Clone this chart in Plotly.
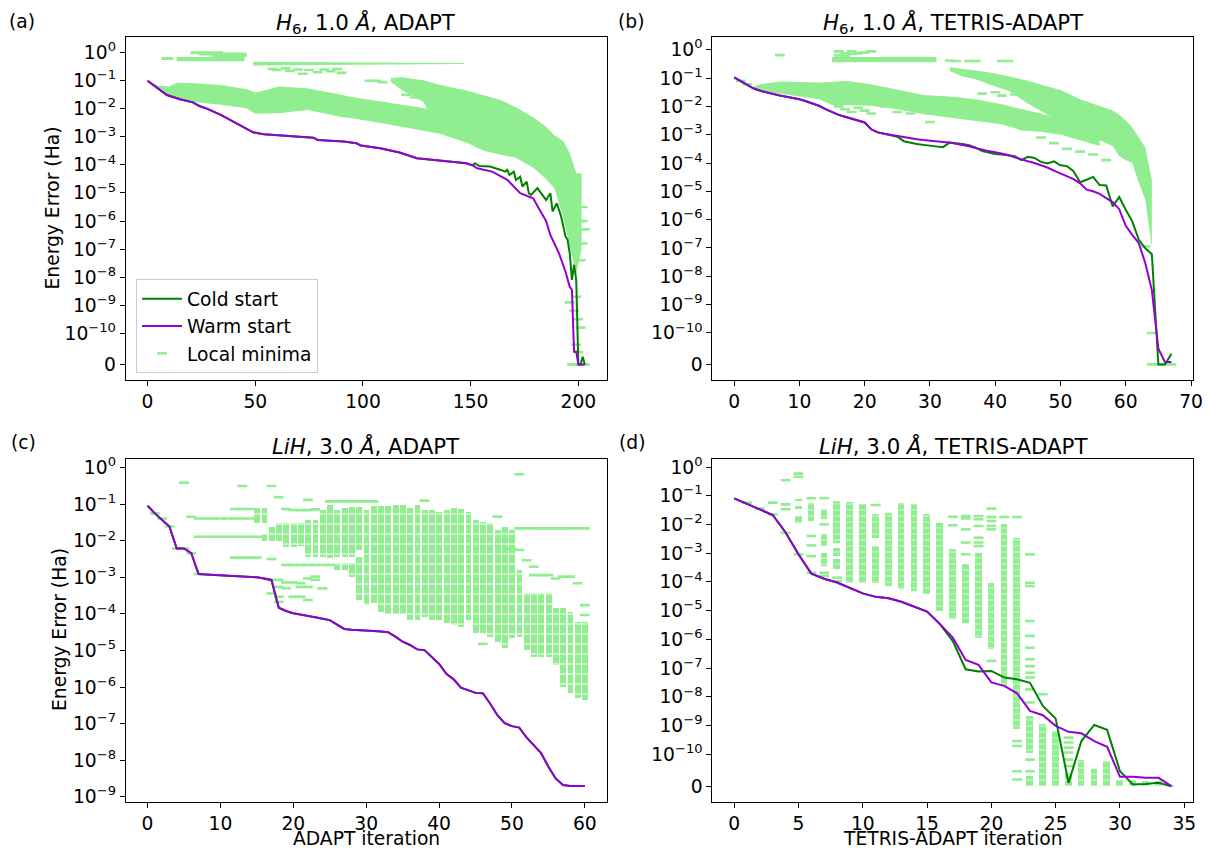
import numpy as np
import plotly.graph_objects as go

Z = float('-inf')   # log10 of an exact-zero energy error
FONT = "DejaVu Sans"
GREEN = "#008000"
PURPLE = "#9400D3"
LG = "#90EE90"

# ================= Panel (a): H6, 1.0 A, ADAPT =================
a_warm_iter = [0, 4, 9, 15, 21, 24, 27, 34, 40, 44, 47, 49, 54, 60, 66, 77, 79, 91, 97, 99,
               108, 117, 125, 136, 148, 151, 153, 160, 167, 173, 179, 182, 185, 187, 190, 191,
               194, 196, 197, 198, 199, 200, 203]
a_warm_log = [-1.0, -1.23, -1.51, -1.66, -1.77, -1.9, -1.98, -2.22, -2.46, -2.61, -2.75, -2.84,
              -2.91, -2.94, -2.99, -3.03, -3.11, -3.17, -3.23, -3.31, -3.41, -3.56, -3.76, -3.85,
              -3.94, -4.02, -4.12, -4.24, -4.53, -5.01, -5.19, -5.6, -6.0, -6.5, -6.95, -7.15,
              -7.8, -8.35, -8.45, -10.39, -10.39, Z, Z]
a_cold_iter = [0, 4, 9, 15, 21, 24, 27, 34, 40, 44, 47, 49, 54, 60, 66, 77, 79, 91, 97, 99,
               108, 117, 125, 136, 148, 151, 152, 154, 159, 164, 166, 167, 168, 170, 171, 173,
               174, 176, 177, 178, 181, 185, 187, 188, 190, 192, 194, 195, 196, 197, 198, 199,
               200, 201, 202, 203]
a_cold_log = [-1.0, -1.23, -1.51, -1.66, -1.77, -1.9, -1.98, -2.22, -2.46, -2.61, -2.75, -2.84,
              -2.91, -2.94, -2.99, -3.03, -3.11, -3.17, -3.23, -3.31, -3.41, -3.56, -3.76, -3.85,
              -3.94, -4.02, -3.94, -4.04, -4.06, -4.18, -4.24, -4.18, -4.36, -4.24, -4.54, -4.42,
              -4.77, -4.6, -5.01, -5.07, -4.83, -5.25, -5.01, -5.66, -5.37, -5.84, -6.55, -6.67,
              -7.15, -8.1, -7.56, -8.1, Z, Z, -10.61, Z]
# local-minima envelopes (log10 of energy error)
a_low_iter = [1, 5, 10, 14, 20, 34, 46, 50, 55, 61, 74, 83, 89, 94, 105, 117, 128, 136, 148]
a_low_top = [-1.05, -1.18, -1.21, -1.07, -1.08, -1.15, -1.30, -1.42, -1.33, -1.21, -1.27, -1.39,
             -1.48, -1.57, -1.70, -1.86, -1.97, -2.10, -2.40]
a_low_bot = [-1.12, -1.35, -1.51, -1.62, -1.75, -1.86, -1.98, -2.18, -2.18, -2.16, -2.04, -2.18,
             -2.28, -2.33, -2.46, -2.62, -2.78, -2.90, -3.20]
a_lobe_iter = [113, 118, 128, 136, 148, 156, 164, 171, 179, 185, 189, 193, 196, 199, 201.5]
a_lobe_top = [-0.90, -0.88, -0.98, -1.15, -1.35, -1.51, -1.69, -1.95, -2.30, -2.64, -2.95, -3.15,
              -3.58, -4.30, -4.30]
a_lobe_bot = [-1.05, -1.33, -1.75, -2.87, -3.20, -3.50, -3.64, -3.75, -4.10, -4.50, -4.85, -5.90,
              -6.90, -7.90, -7.00]
a_row_iter = [49, 78, 110, 134, 147]
a_row_top = [-0.32, -0.33, -0.34, -0.36, -0.37]
a_row_bot = [-0.46, -0.44, -0.43, -0.41, -0.40]
a_seg_x0 = [20, 24, 30, 6.5, 13.5, 13.5]
a_seg_x1 = [35, 46, 46, 12, 45, 45]
a_seg_log = [0.0, -0.05, -0.10, -0.21, -0.21, -0.25]
a_dash_iter = [58, 60, 64, 66, 70, 72, 75, 79, 82, 85, 88, 90, 103, 106, 109, 32, 120, 124, 127,
               131, 196, 198, 199, 200, 201, 199, 200, 202, 202, 203, 202, 201,
               197, 198, 199, 200, 201, 202, 203]
a_dash_log = [-0.58, -0.62, -0.56, -0.65, -0.60, -0.75, -0.62, -0.70, -0.60, -0.66, -0.58, -0.72,
              -1.0, -1.0, -1.05, -1.21, -1.50, -1.60, -1.45, -1.55, -8.9, -9.2, -8.7, -9.5, -9.8,
              -10.2, -10.4, -5.5, -6.0, -6.3, -6.8, -7.4, Z, Z, Z, Z, Z, Z, Z]

# ================= Panel (b): H6, 1.0 A, TETRIS-ADAPT =================
b_iter = list(range(0, 68))
b_warm_log = [-0.98, -1.10, -1.24, -1.37, -1.45, -1.51, -1.57, -1.62, -1.66, -1.70,
              -1.75, -1.82, -1.89, -1.98, -2.10, -2.20, -2.30, -2.37, -2.44, -2.50,
              -2.57, -2.81, -2.92, -2.97, -3.01, -3.05, -3.10, -3.13, -3.16, -3.19,
              -3.22, -3.24, -3.26, -3.28, -3.32, -3.36, -3.41, -3.47, -3.53, -3.58,
              -3.62, -3.67, -3.72, -3.80, -3.88, -3.94, -4.00, -4.08, -4.16, -4.27,
              -4.37, -4.47, -4.57, -4.72, -4.94, -5.00, -5.09, -5.24, -5.38, -5.63,
              -6.22, -6.54, -6.83, -7.54, -8.49, -10.30, -11.10, -11.10]
b_cold_log = [-0.98, -1.10, -1.24, -1.37, -1.45, -1.51, -1.57, -1.62, -1.66, -1.70,
              -1.75, -1.82, -1.89, -1.98, -2.10, -2.20, -2.30, -2.37, -2.44, -2.50,
              -2.57, -2.81, -2.92, -2.97, -3.01, -3.07, -3.23, -3.29, -3.33, -3.36,
              -3.38, -3.41, -3.44, -3.28, -3.30, -3.33, -3.37, -3.46, -3.58, -3.64,
              -3.68, -3.70, -3.72, -3.76, -3.90, -3.78, -3.82, -3.96, -4.02, -3.94,
              -4.08, -4.11, -4.29, -4.68, -4.59, -4.49, -4.78, -4.79, -5.53, -5.20,
              -5.65, -6.06, -6.71, -7.01, -7.22, Z, Z, -10.47]
b_low_iter = [3, 4, 7, 10, 13, 15, 17, 21, 25, 29, 33, 37, 41, 44, 47, 50, 53, 56]
b_low_top = [-1.30, -1.22, -1.12, -1.14, -1.16, -1.14, -1.10, -1.22, -1.40, -1.60, -1.65, -1.75,
             -1.93, -2.10, -2.25, -2.45, -2.65, -2.90]
b_low_bot = [-1.42, -1.45, -1.55, -1.65, -1.75, -1.95, -1.95, -1.98, -2.10, -2.28, -2.40, -2.52,
             -2.63, -2.85, -2.90, -3.00, -3.20, -3.40]
b_lobe_iter = [33, 35, 37, 39, 42, 45, 48, 50, 53, 56, 58, 59, 60, 61, 62, 63, 64]
b_lobe_top = [-0.62, -0.68, -0.74, -0.80, -0.94, -1.10, -1.30, -1.42, -1.75, -2.00, -2.15, -2.30,
              -2.50, -2.75, -3.10, -3.45, -4.60]
b_lobe_bot = [-0.75, -0.95, -1.04, -1.22, -1.45, -1.90, -2.30, -2.50, -2.80, -3.20, -3.40, -3.75,
              -3.90, -4.00, -4.70, -5.30, -7.00]
b_seg_x0 = [15, 15]
b_seg_x1 = [31, 31]
b_seg_log = [-0.31, -0.39]
b_dash_iter = [1, 2, 7, 16, 17, 18, 18, 19, 20, 21, 16, 17, 33, 34, 36, 37, 41, 42,
               16, 17, 18, 19, 20, 21, 23, 25, 27, 30,
               38, 40, 41, 43,
               47, 49, 51, 53, 55, 57, 63,
               64, 64, 65, 66, 67]
b_dash_log = [-1.10, -1.22, -0.19, -0.06, -0.12, -0.06, -0.15, -0.12, -0.10, -0.06, -0.20, -0.22,
              -0.38, -0.40, -0.40, -0.40, -0.40, -0.40,
              -2.00, -2.10, -2.20, -2.05, -2.15, -2.25, -2.00, -2.20, -2.25, -2.55,
              -1.55, -1.50, -1.62, -1.58,
              -3.10, -3.30, -3.50, -3.60, -3.70, -3.90, -6.95,
              -10.0, Z, Z, Z, Z]

# ================= Panel (c): LiH, 3.0 A, ADAPT =================
c_iter = list(range(0, 61))
c_warm_log = [-1.04, -1.25, -1.43, -1.61, -2.21, -2.21, -2.34, -2.91, -2.92, -2.93,
              -2.94, -2.95, -2.96, -2.97, -2.98, -3.00, -3.03, -3.07, -3.83, -3.92,
              -3.98, -4.01, -4.05, -4.09, -4.13, -4.17, -4.29, -4.41, -4.43, -4.45,
              -4.46, -4.47, -4.48, -4.50, -4.62, -4.76, -4.85, -4.97, -4.99, -5.17,
              -5.37, -5.64, -5.79, -6.02, -6.10, -6.16, -6.17, -6.45, -6.77, -6.99,
              -7.07, -7.11, -7.38, -7.59, -7.81, -8.18, -8.50, -8.68, -8.71, -8.71, -8.71]
c_cold_log = [-1.04, -1.25, -1.43, -1.61, -2.21, -2.21, -2.34, -2.91, -2.92, -2.93,
              -2.94, -2.95, -2.96, -2.97, -2.98, -3.00, -3.03, -3.07, -3.83, -3.92,
              -3.98, -4.01, -4.05, -4.09, -4.13, -4.17, -4.29, -4.41, -4.43, -4.45,
              -4.46, -4.47, -4.48, -4.50, -4.62, -4.76, -4.85, -4.97, -4.99, -5.17,
              -5.37, -5.64, -5.79, -6.02, -6.10, -6.16, -6.17, -6.45, -6.77, -6.99,
              -7.07, -7.11, -7.38, -7.59, -7.81, -8.18, -8.50, -8.68, -8.71, -8.71, -8.71]
c_col_iter = [15, 16, 16, 17, 18, 19, 20, 21, 22, 23, 24, 25, 26, 26, 27, 27, 28, 28, 29, 29,
              30, 31, 32, 33, 34, 35, 36, 37, 38, 39, 40, 41, 42, 43, 44, 45, 46, 47, 48, 49,
              50, 51, 52, 53, 54, 55, 56, 57, 58, 59, 60]
c_col_top = [-1.11, -1.11, -1.80, -1.61, -1.52, -1.52, -1.52, -1.52, -1.43, -1.43,
             -1.16, -1.02, -1.16, -2.62, -1.09, -2.62, -1.07, -2.62, -1.07, -2.44,
             -1.16, -1.05, -1.05, -1.05, -1.02, -1.02, -1.11, -1.02, -1.16, -1.16,
             -1.20, -1.16, -1.11, -1.14, -1.20, -1.43, -1.48, -1.52, -1.71, -1.61,
             -1.71, -2.80, -3.44, -3.44, -3.44, -3.44, -3.85, -3.85, -3.94, -4.21, -4.21]
c_col_bot = [-1.50, -1.50, -2.00, -2.00, -2.00, -2.16, -2.16, -2.14, -2.44, -2.45,
             -2.45, -2.48, -2.45, -2.80, -2.45, -2.80, -2.45, -2.98, -2.25, -3.62,
             -3.76, -3.71, -3.94, -3.99, -3.99, -3.99, -4.17, -4.17, -4.09, -4.17,
             -4.17, -4.26, -4.30, -4.35, -4.17, -4.53, -4.53, -4.62, -4.76, -4.94,
             -4.67, -4.62, -4.99, -5.17, -5.17, -5.17, -5.40, -5.99, -6.17, -6.31, -6.36]
c_dash_iter = [1, 2, 3, 4, 5, 5, 6, 6, 7, 7, 7,
               8, 9, 10, 11, 12, 13, 14,
               8, 9, 10, 11, 12, 13, 14, 15,
               12, 13, 14, 15, 17,
               12, 13, 14, 19, 20, 21, 22, 23,
               13, 17, 18, 22,
               25, 26, 27, 28, 29, 30, 31,
               38, 51,
               19, 20, 21, 22, 23, 24, 25,
               17, 17, 18, 18, 18, 18, 19, 19, 20, 20, 21, 21, 21, 22, 22, 22, 23, 23, 24,
               51, 52, 53, 54, 55, 56, 57, 58, 59, 60,
               49, 50, 51, 52, 53, 53, 54, 55, 56, 57, 58, 59, 60, 60, 48, 46]
c_dash_log = [-1.25, -1.39, -1.61, -2.21, -0.41, -2.21, -1.34, -2.34, -1.39, -1.89, -2.91,
              -1.39, -1.39, -1.39, -1.39, -1.39, -1.39, -1.39,
              -1.89, -1.89, -1.89, -1.89, -1.89, -1.89, -1.89, -1.89,
              -2.46, -2.46, -2.46, -2.46, -2.50,
              -1.13, -1.13, -1.13, -1.13, -1.16, -1.16, -1.16, -1.14,
              -0.50, -0.50, -0.81, -0.88,
              -0.92, -0.92, -0.92, -0.92, -0.92, -0.92, -0.92,
              -0.90, -0.18,
              -2.66, -2.66, -2.66, -2.66, -2.66, -2.66, -2.66,
              -3.07, -3.44, -3.07, -3.26, -3.53, -3.67, -3.14, -3.30, -3.14, -3.53, -3.16,
              -3.26, -3.53, -3.03, -3.26, -3.62, -2.98, -3.07, -3.30,
              -1.66, -1.66, -1.66, -1.66, -1.66, -1.66, -1.66, -1.66, -1.66, -1.66,
              -1.98, -2.21, -2.25, -2.53, -2.71, -2.94, -2.94, -2.94, -3.03, -2.98, -2.98,
              -3.16, -3.76, -4.03, -1.34, -4.82]

# ================= Panel (d): LiH, 3.0 A, TETRIS-ADAPT =================
d_iter = list(range(0, 35))
d_warm_log = [-1.09, -1.28, -1.47, -1.67, -2.28, -3.04, -3.71, -3.89, -4.02, -4.20,
              -4.40, -4.52, -4.57, -4.69, -4.86, -5.03, -5.47, -5.94, -6.72, -6.89,
              -7.50, -7.62, -7.88, -8.49, -8.64, -9.01, -9.22, -9.27, -9.54, -9.74,
              -10.53, -10.53, -10.58, -10.58, Z]
d_cold_log = [-1.09, -1.28, -1.47, -1.67, -2.28, -3.04, -3.71, -3.89, -4.02, -4.20,
              -4.40, -4.52, -4.57, -4.69, -4.86, -5.03, -5.47, -6.06, -7.04, -7.12,
              -7.10, -7.33, -7.39, -7.51, -8.32, -8.76, -10.98, -9.54, -8.98, -9.15,
              -10.33, -11.28, -11.14, -10.98, Z]
d_col_iter = [5, 5, 5, 6, 7, 7, 7, 8, 8, 8, 9, 10, 11, 11, 12, 13, 14, 15, 16, 17, 18, 19, 20,
              21, 22, 23, 23, 24, 25, 26, 27, 28, 29, 30, 31, 32, 33, 34]
d_col_top = [-1.13, -1.36, -1.71, -1.24, -1.47, -2.34, -2.98, -1.18, -2.81, -3.21, -1.22, -1.30,
             -1.65, -2.75, -1.59, -1.24, -1.30, -1.62, -1.94, -2.86, -3.39, -2.98, -4.03, -2.00,
             -2.46, -8.67, -10.50, -8.96, -9.19, -10.38, -10.08, -10.28, -10.11, -10.68, -10.68,
             -10.80, -10.80, -11.30]
d_col_bot = [-1.18, -1.47, -1.94, -1.88, -1.82, -2.75, -3.45, -2.63, -3.10, -3.56, -4.03, -4.03,
             -2.46, -4.03, -4.14, -4.26, -4.32, -4.43, -5.01, -5.30, -5.42, -5.94, -6.35, -7.62,
             -9.13, -9.94, Z, Z, Z, Z, Z, Z, Z, Z, Z, Z, Z, Z]
d_dash_iter = [1, 2, 3, 3, 4, 4, 4, 4, 5, 5, 5, 6, 6, 6, 6, 6, 7, 7, 7, 7, 8, 8, 11,
               17, 17, 18, 18, 18, 18, 18, 19, 19, 19, 19, 19, 19, 20, 20, 20, 20, 20, 20, 21,
               22, 22, 22, 22, 22,
               23, 23, 23, 23, 23, 23, 23, 23, 23, 23, 23, 23, 23, 23, 24, 26, 26, 26, 26, 26, 26]
d_dash_log = [-1.24, -1.45, -1.24, -1.65, -0.46, -1.30, -1.47, -2.29, -0.23, -0.34, -3.04,
              -1.09, -2.40, -2.73, -3.10, -3.68, -1.09, -2.00, -3.68, -3.79, -3.85, -3.97, -1.32,
              -1.73, -2.03, -1.71, -1.79, -2.17, -2.63, -3.04, -1.71, -1.82, -2.05, -2.46, -2.63,
              -2.75, -1.45, -1.74, -1.88, -2.05, -2.17, -6.75, -1.74,
              -1.74, -9.54, -9.71, -10.33, -10.68,
              -3.04, -4.03, -4.14, -5.36, -5.88, -6.29, -6.69, -6.93, -7.16, -7.33, -7.74, -8.20,
              -10.08, -10.33, -7.91, -9.42, -9.59, -9.77, -9.94, -10.08, -10.20]

# tick labels
sym_tick_log = [Z, -10, -9, -8, -7, -6, -5, -4, -3, -2, -1, 0]
sym_tick_text = ["0"] + ["10<sup>\u2212%d</sup>" % k for k in range(10, 0, -1)] + ["10<sup>0</sup>"]
log_tick_log = [-9, -8, -7, -6, -5, -4, -3, -2, -1, 0]
log_tick_text = ["10<sup>\u2212%d</sup>" % k for k in range(9, 0, -1)] + ["10<sup>0</sup>"]
a_xticks = [0, 50, 100, 150, 200]
b_xticks = [0, 10, 20, 30, 40, 50, 60, 70]
c_xticks = [0, 10, 20, 30, 40, 50, 60]
d_xticks = [0, 5, 10, 15, 20, 25, 30, 35]

# ---------------- scales ----------------
LT = 1e-10
LS = 1.0 / (1.0 - 0.1)


def values(logs):
    return np.power(10.0, np.asarray(logs, dtype=float))


def symlog(logs):
    v = values(logs)
    return np.where(v > LT, LS + np.log10(np.maximum(v, LT) / LT), v / LT * LS)


def plainlog(logs):
    return np.log10(values(logs))


fig = go.Figure()


def axes(ax):
    return dict(xaxis="x" + ax, yaxis="y" + ax)


def add_band(xs, top, bot, tf, ax):
    x = list(xs) + list(xs)[::-1]
    y = list(tf(top)) + list(tf(bot))[::-1]
    fig.add_trace(go.Scatter(x=x, y=y, fill="toself", fillcolor=LG, mode="lines",
                             line=dict(width=0, color=LG), hoverinfo="skip",
                             showlegend=False, **axes(ax)))


def add_cols(xs, top, bot, tf, ax, width, psize):
    t = tf(top)
    b = tf(bot)
    fig.add_trace(go.Bar(x=xs, y=t - b, base=b, width=width,
                         marker=dict(color=LG, line=dict(width=0),
                                     pattern=dict(shape="-", fgcolor="white", bgcolor=LG,
                                                  size=psize, solidity=0.1)),
                         hoverinfo="skip", showlegend=False, **axes(ax)))


def add_segs(x0, x1, logs, tf, ax):
    xs, ys = [], []
    for a, b, t in zip(x0, x1, tf(logs)):
        xs += [a, b, None]
        ys += [t, t, None]
    fig.add_trace(go.Scatter(x=xs, y=ys, mode="lines", line=dict(color=LG, width=3),
                             hoverinfo="skip", showlegend=False, **axes(ax)))


def add_dashes(xs, logs, tf, ax, legend=False):
    fig.add_trace(go.Scatter(x=xs, y=tf(logs), mode="markers", name="Local minima",
                             marker=dict(symbol="line-ew", size=7, color=LG,
                                         line=dict(width=2.6, color=LG)),
                             showlegend=legend, legendgroup="g3", legendrank=3,
                             hoverinfo="skip", **axes(ax)))


def add_line(xs, logs, tf, ax, color, name, legend, rank):
    fig.add_trace(go.Scatter(x=xs, y=tf(logs), mode="lines", name=name,
                             line=dict(color=color, width=2), showlegend=legend,
                             legendgroup="g%d" % rank, legendrank=rank,
                             hoverinfo="skip", **axes(ax)))


# (a)
add_band(a_low_iter, a_low_top, a_low_bot, symlog, "")
add_band(a_lobe_iter, a_lobe_top, a_lobe_bot, symlog, "")
add_band(a_row_iter, a_row_top, a_row_bot, symlog, "")
add_segs(a_seg_x0, a_seg_x1, a_seg_log, symlog, "")
add_dashes(a_dash_iter, a_dash_log, symlog, "", legend=True)
add_line(a_cold_iter, a_cold_log, symlog, "", GREEN, "Cold start", True, 1)
add_line(a_warm_iter, a_warm_log, symlog, "", PURPLE, "Warm start", True, 2)
# (b)
add_band(b_low_iter, b_low_top, b_low_bot, symlog, "2")
add_band(b_lobe_iter, b_lobe_top, b_lobe_bot, symlog, "2")
add_segs(b_seg_x0, b_seg_x1, b_seg_log, symlog, "2")
add_dashes(b_dash_iter, b_dash_log, symlog, "2")
add_line(b_iter, b_cold_log, symlog, "2", GREEN, "Cold start", False, 1)
add_line(b_iter, b_warm_log, symlog, "2", PURPLE, "Warm start", False, 2)
# (c)
add_cols(c_col_iter, c_col_top, c_col_bot, plainlog, "3", 0.8, 10)
add_dashes(c_dash_iter, c_dash_log, plainlog, "3")
add_line(c_iter, c_cold_log, plainlog, "3", GREEN, "Cold start", False, 1)
add_line(c_iter, c_warm_log, plainlog, "3", PURPLE, "Warm start", False, 2)
# (d)
add_cols(d_col_iter, d_col_top, d_col_bot, symlog, "4", 0.52, 6)
add_dashes(d_dash_iter, d_dash_log, symlog, "4")
add_line(d_iter, d_cold_log, symlog, "4", GREEN, "Cold start", False, 1)
add_line(d_iter, d_warm_log, symlog, "4", PURPLE, "Warm start", False, 2)

W, H = 1208, 850
TICKF = dict(family=FONT, size=18.7, color="black")


def px_x(a, b):
    return [a / W, b / W]


def px_y(top, bottom):
    return [1 - bottom / H, 1 - top / H]


def xcfg(dom, rng, ticks, anchor):
    return dict(domain=dom, range=rng, tickmode="array", tickvals=ticks,
                ticktext=[str(t) for t in ticks], showline=True, mirror=True,
                linecolor="black", linewidth=1, ticks="outside", ticklen=5, tickwidth=1,
                tickcolor="black", showgrid=False, zeroline=False, tickfont=TICKF,
                anchor=anchor, automargin=False, fixedrange=True)


def ycfg(dom, rng, tickpos, ticktext, anchor):
    return dict(domain=dom, range=rng, tickmode="array", tickvals=list(tickpos),
                ticktext=ticktext, showline=True, mirror=True, linecolor="black",
                linewidth=1, ticks="outside", ticklen=5, tickwidth=1, tickcolor="black",
                showgrid=False, zeroline=False, tickfont=TICKF, anchor=anchor,
                automargin=False, fixedrange=True)


XL = px_x(125.7, 606.7)
XR = px_x(712.3, 1193.3)
YT = px_y(36.7, 380.0)
YB = px_y(459.0, 801.7)

fig.update_layout(
    width=W, height=H, margin=dict(l=0, r=0, t=0, b=0),
    paper_bgcolor="white", plot_bgcolor="white", template="none",
    barmode="overlay", bargap=0,
    font=dict(family=FONT, size=18.7, color="black"),
    xaxis=xcfg(XL, [-10.15, 213.15], a_xticks, "y"),
    yaxis=ycfg(YT, [-0.556, 11.68], symlog(sym_tick_log), sym_tick_text, "x"),
    xaxis2=xcfg(XR, [-3.35, 70.35], b_xticks, "y2"),
    yaxis2=ycfg(YT, [-0.55, 11.57], symlog(sym_tick_log), sym_tick_text, "x2"),
    xaxis3=xcfg(XL, [-3.0, 63.0], c_xticks, "y3"),
    yaxis3=ycfg(YB, [-9.137, 0.238], plainlog(log_tick_log), log_tick_text, "x3"),
    xaxis4=xcfg(XR, [-1.7, 35.7], d_xticks, "y4"),
    yaxis4=ycfg(YB, [-0.54, 11.39], symlog(sym_tick_log), sym_tick_text, "x4"),
    legend=dict(x=136 / W, y=1 - 279 / H, xanchor="left", yanchor="top",
                bgcolor="white", bordercolor="#cccccc", borderwidth=1,
                font=dict(family=FONT, size=18.7, color="black"),
                tracegroupgap=0, itemwidth=40),
    showlegend=True,
)

TITLE_F = dict(family=FONT, size=21.3, color="black")
LABEL_F = dict(family=FONT, size=18.7, color="black")


def ann(text, x, y, font, xanchor="center", yanchor="middle", **kw):
    fig.add_annotation(text=text, x=x / W, y=1 - y / H, xref="paper", yref="paper",
                       showarrow=False, font=font, xanchor=xanchor, yanchor=yanchor, **kw)


ann("<i>H</i><sub>6</sub>, 1.0 <i>\u00c5</i>, ADAPT", 366, 24, TITLE_F)
ann("<i>H</i><sub>6</sub>, 1.0 <i>\u00c5</i>, TETRIS-ADAPT", 953, 24, TITLE_F)
ann("<i>LiH</i>, 3.0 <i>\u00c5</i>, ADAPT", 366, 446, TITLE_F)
ann("<i>LiH</i>, 3.0 <i>\u00c5</i>, TETRIS-ADAPT", 953, 446, TITLE_F)
ann("(a)", 7, 22, LABEL_F, xanchor="left")
ann("(b)", 616, 22, LABEL_F, xanchor="left")
ann("(c)", 9, 443, LABEL_F, xanchor="left")
ann("(d)", 617, 443, LABEL_F, xanchor="left")
ann("Energy Error (Ha)", 52, 208.5, LABEL_F, textangle=-90)
ann("Energy Error (Ha)", 59, 630, LABEL_F, textangle=-90)
ann("ADAPT iteration", 366, 850, LABEL_F, yanchor="bottom", borderpad=0)
ann("TETRIS-ADAPT iteration", 953, 850, LABEL_F, yanchor="bottom", borderpad=0)

fig.write_html("out.html", config={"displayModeBar": False},
               post_script="document.body.style.margin='0';")
